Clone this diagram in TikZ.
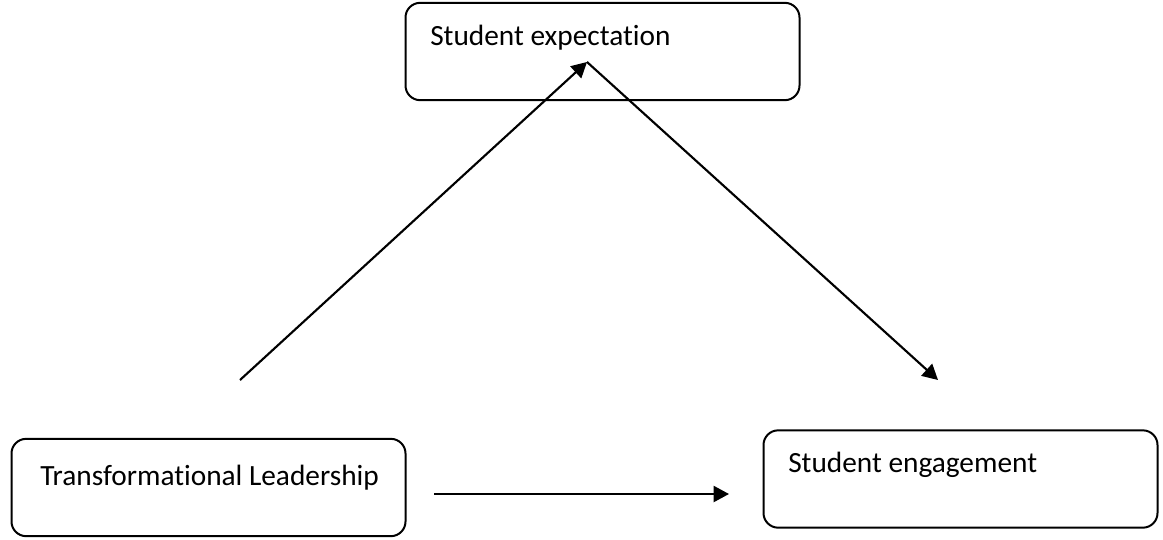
\documentclass[tikz,border=0pt]{standalone}
\usepackage{fontspec}
\setmainfont{Carlito}[Ligatures=NoCommon]
\usetikzlibrary{arrows.meta, positioning}

\begin{document}
\begin{tikzpicture}[
  x=0.75pt, y=-0.75pt,
  box/.style={draw, rounded corners=11pt, line width=1.5pt, minimum width=295.5pt,
              minimum height=73pt, inner sep=0pt},
  boxtext/.style={font=\fontsize{22}{26}\selectfont, anchor=base west, inner sep=0pt},
  arrow/.style={-{Triangle[length=11.5pt, width=12pt]}, line width=1.6pt}
]
  \useasboundingbox (0,0) rectangle (1163,539);

  % Boxes
  \node[box] (exp) at (602.5, 51.5) {};
  \node[box] (tl) at (208.5, 487.5) {};
  \node[box] (eng) at (960.5, 479) {};

  % Texts
  \node[boxtext] (expt) at (430, 45) {Student expectation};
  \node[boxtext] (tlt) at (40, 485) {Transformational Leadership};
  \node[boxtext] (engt) at (788, 472) {Student engagement};

  % Free ends of the arrows
  \coordinate (a1s) at (240, 380);
  \coordinate (a1e) at (587, 62);
  \coordinate (a2s) at (587, 62);
  \coordinate (a2e) at (938, 380);
  \coordinate (a3s) at (434, 494);
  \coordinate (a3e) at (729, 494);

  % Arrows
  \draw[arrow] (a1s) -- (a1e);
  \draw[arrow] (a2s) -- (a2e);
  \draw[arrow] (a3s) -- (a3e);
\end{tikzpicture}
\end{document}
